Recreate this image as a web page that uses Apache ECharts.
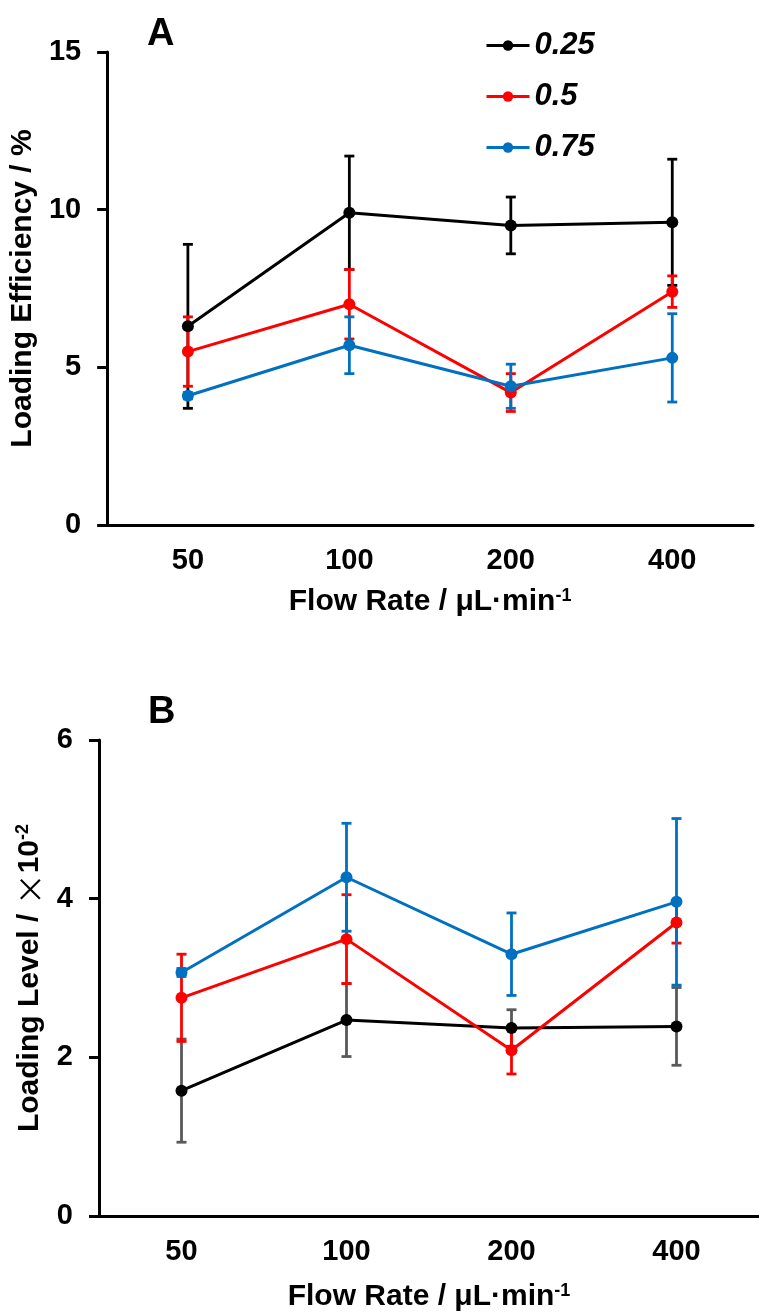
<!DOCTYPE html>
<html><head><meta charset="utf-8">
<script src="https://cdn.jsdelivr.net/npm/echarts@6/dist/echarts.min.js"></script>
<style>html,body{margin:0;padding:0;background:#fff}#c{width:759px;height:1313px}</style>
</head><body><div id="c"></div>
<script>
const categories = ['50', '100', '200', '400'];
const seriesNames = ['0.25', '0.5', '0.75'];
// Panel A: Loading Efficiency / %
const effA_025 = [6.3, 9.9, 9.5, 9.6];
const errA_025 = [2.6, 1.8, 0.9, 2.0];
const effA_05 = [5.5, 7.0, 4.2, 7.4];
const errA_05 = [1.1, 1.1, 0.6, 0.5];
const effA_075 = [4.1, 5.7, 4.4, 5.3];
const errA_075 = [0.1, 0.9, 0.7, 1.4];
// Panel B: Loading Level / x10^-2
const lvlB_025 = [1.58, 2.47, 2.37, 2.39];
const errB_025 = [0.65, 0.46, 0.23, 0.49];
const lvlB_05 = [2.75, 3.49, 2.09, 3.70];
const errB_05 = [0.55, 0.56, 0.30, 0.26];
const lvlB_075 = [3.07, 4.27, 3.30, 3.96];
const errB_075 = [0.05, 0.68, 0.52, 1.05];
const yTicksA = [0, 5, 10, 15];
const yTicksB = [0, 2, 4, 6];

const colors = ['#000000', '#ff0000', '#0070c0'];
const barColorsB = ['#595959', '#ff0000', '#0070c0'];
const FONT = 'Liberation Sans';

function errData(vals, errs) {
  return vals.map((v, i) => [i, v - errs[i], v + errs[i]]);
}
function errSeries(vals, errs, color, gi, name) {
  return {
    type: 'custom', name: name, xAxisIndex: gi, yAxisIndex: gi,
    data: errData(vals, errs),
    silent: true,
    renderItem: function (params, api) {
      const x = api.value(0);
      const top = api.coord([x, api.value(2)]);
      const bot = api.coord([x, api.value(1)]);
      const hw = 5;
      const st = { stroke: color, lineWidth: 2.8 };
      return { type: 'group', children: [
        { type: 'line', shape: { x1: top[0], y1: top[1], x2: bot[0], y2: bot[1] }, style: st },
        { type: 'line', shape: { x1: top[0] - hw, y1: top[1], x2: top[0] + hw, y2: top[1] }, style: st },
        { type: 'line', shape: { x1: bot[0] - hw, y1: bot[1], x2: bot[0] + hw, y2: bot[1] }, style: st }
      ]};
    }
  };
}
function lineSeries(name, vals, color, gi) {
  return {
    type: 'line', name: name, xAxisIndex: gi, yAxisIndex: gi, data: vals,
    symbol: 'circle', symbolSize: 12, showSymbol: true,
    lineStyle: { color: color, width: 3 }, itemStyle: { color: color },
    emphasis: { disabled: true }, animation: false
  };
}

const valsA = [effA_025, effA_05, effA_075], errsA = [errA_025, errA_05, errA_075];
const valsB = [lvlB_025, lvlB_05, lvlB_075], errsB = [errB_025, errB_05, errB_075];
const series = [];
for (let k = 0; k < 3; k++) {
  series.push(errSeries(valsA[k], errsA[k], colors[k], 0, 'errA' + k));
  series.push(lineSeries(seriesNames[k], valsA[k], colors[k], 0));
}
for (let k = 0; k < 3; k++) {
  series.push(errSeries(valsB[k], errsB[k], barColorsB[k], 1, 'errB' + k));
  series.push(lineSeries(seriesNames[k], valsB[k], colors[k], 1));
}

const axisLine = { show: true, lineStyle: { color: '#000', width: 3 } };
const tickLbl = { color: '#000', fontSize: 29, fontWeight: 'bold', fontFamily: FONT };
const nameStyle = { color: '#000', fontSize: 30, fontWeight: 'bold', fontFamily: FONT };
const supRich = {
  sup: { fontSize: 18, fontWeight: 'bold', fontFamily: FONT, color: '#000', verticalAlign: 'top' },
  x: { fontSize: 32, fontWeight: 'normal', fontFamily: 'Noto Sans CJK SC', color: '#000' }
};

function xAx(gi, gap) {
  return {
    type: 'category', gridIndex: gi, data: categories, boundaryGap: true,
    axisLine: axisLine, axisTick: { show: false },
    axisLabel: Object.assign({ margin: 21 }, tickLbl),
    name: 'Flow Rate / μL·min{sup|-1}', nameLocation: 'middle', nameGap: gap,
    nameTextStyle: Object.assign({ rich: supRich }, nameStyle)
  };
}
function yAx(gi, max, interval, name, gap) {
  return {
    type: 'value', gridIndex: gi, min: 0, max: max, interval: interval,
    axisLine: axisLine, splitLine: { show: false },
    axisTick: { show: true, length: 10, lineStyle: { color: '#000', width: 3 } },
    axisLabel: Object.assign({ margin: 26 }, tickLbl),
    name: name, nameLocation: 'middle', nameGap: gap,
    nameTextStyle: Object.assign({ rich: supRich }, nameStyle)
  };
}

const option = {
  animation: false,
  backgroundColor: '#fff',
  grid: [
    { left: 107, top: 52, width: 646, height: 473 },
    { left: 99, top: 740, width: 671, height: 477 }
  ],
  xAxis: [xAx(0, 62), xAx(1, 66)],
  yAxis: [
    yAx(0, 15, 5, 'Loading Efficiency / %', 59),
    yAx(1, 6, 2, 'Loading Level / {x|×}10{sup|-2}', 51)
  ],
  legend: {
    data: seriesNames, orient: 'vertical', left: 485, top: 30, padding: 0,
    itemWidth: 43, itemHeight: 13, itemGap: 20,
    selectedMode: false,
    lineStyle: { width: 3 },
    textStyle: { color: '#000', fontSize: 31, fontWeight: 'bold', fontStyle: 'italic', fontFamily: FONT, lineHeight: 31 }
  },
  graphic: [
    { type: 'text', left: 147, top: 16, style: { text: 'A', fontSize: 38, fontWeight: 'bold', fontFamily: FONT, fill: '#000' } },
    { type: 'text', left: 148, top: 694, style: { text: 'B', fontSize: 38, fontWeight: 'bold', fontFamily: FONT, fill: '#000' } }
  ],
  series: series
};
const chart = echarts.init(document.getElementById('c'), null, { renderer: 'canvas' });
chart.setOption(option);
</script>
</body></html>
